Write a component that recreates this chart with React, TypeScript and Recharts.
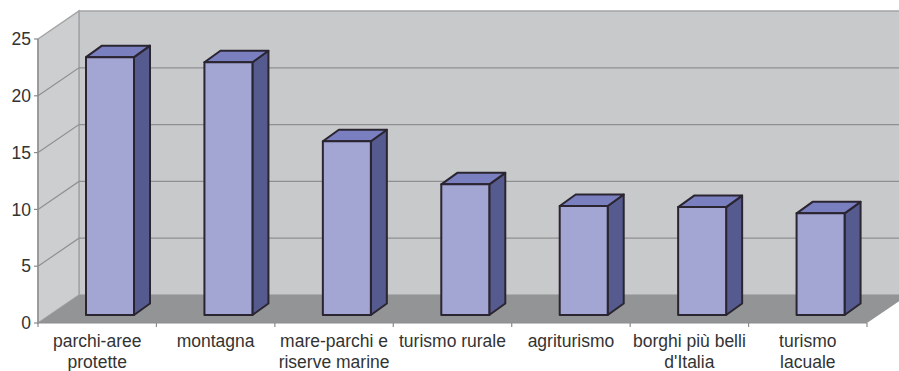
import React from "react";
import { BarChart, Bar, XAxis, YAxis, usePlotArea } from "recharts";

// --- Data ---

const CATEGORIES = [
  "parchi-aree\nprotette",
  "montagna",
  "mare-parchi e\nriserve marine",
  "turismo rurale",
  "agriturismo",
  "borghi più belli\nd'Italia",
  "turismo\nlacuale",
];
const VALUES = [22.7, 22.25, 15.3, 11.5, 9.6, 9.5, 8.95];
const Y_TICKS = [0, 5, 10, 15, 20, 25];
const Y_MAX = 25;

// --- Constants ---

const WALL = "#c8c9cb";
const SIDE_WALL = "#cdced0";
const FLOOR = "#939495";
const GRID = "#8f9092";
const EDGE = "#a3a4a6";
const AXIS = "#8a8b8d";
const TEXT = "#333333";
const FONT = "'Liberation Sans', Arial, sans-serif";

const BAR_FRONT = "#a3a5d3";
const BAR_TOP = "#7a7fbf";
const BAR_SIDE = "#565b8f";
const BAR_STROKE = "#2a2530";

// chart depth: how far the back wall sits from the axis plane
const DEPTH_X = 41;
const DEPTH_Y = 28;
// bars stand a little way into the floor, and have their own depth
const BAR_SHIFT_X = 13;
const BAR_SHIFT_Y = 8;
const BAR_DEPTH_X = 16;
const BAR_DEPTH_Y = 11.5;

// --- Sub-components ---

function pts(list: number[][]) {
  return list.map((p) => p.join(",")).join(" ");
}

// Walls, floor, wall gridlines and the ticks between categories
function Room() {
  const plot = usePlotArea();
  if (!plot) return null;
  const { x: left, y: top, width, height } = plot;
  const right = left + width;
  const bottom = top + height;
  const yOf = (v: number) => bottom - (v / Y_MAX) * height;
  const band = width / CATEGORIES.length;

  return (
    <g>
      <polygon
        points={pts([
          [left + DEPTH_X, top - DEPTH_Y],
          [right + DEPTH_X, top - DEPTH_Y],
          [right + DEPTH_X, bottom - DEPTH_Y],
          [left + DEPTH_X, bottom - DEPTH_Y],
        ])}
        fill={WALL}
        stroke={EDGE}
        strokeWidth={1.5}
      />
      <polygon
        points={pts([
          [left, top],
          [left + DEPTH_X, top - DEPTH_Y],
          [left + DEPTH_X, bottom - DEPTH_Y],
          [left, bottom],
        ])}
        fill={SIDE_WALL}
        stroke={EDGE}
        strokeWidth={1.5}
      />
      {Y_TICKS.filter((t) => t > 0 && t < Y_MAX).map((t) => (
        <polyline
          key={t}
          points={pts([
            [left, yOf(t)],
            [left + DEPTH_X, yOf(t) - DEPTH_Y],
            [right + DEPTH_X, yOf(t) - DEPTH_Y],
          ])}
          fill="none"
          stroke={GRID}
          strokeWidth={1.2}
        />
      ))}
      <polygon
        points={pts([
          [left, bottom],
          [left + DEPTH_X, bottom - DEPTH_Y],
          [right + DEPTH_X, bottom - DEPTH_Y],
          [right, bottom],
        ])}
        fill={FLOOR}
      />
      {CATEGORIES.map((_, i) => (
        <line
          key={i}
          x1={left + band * i}
          x2={left + band * i}
          y1={bottom}
          y2={bottom + 4}
          stroke={AXIS}
          strokeWidth={1.2}
        />
      ))}
      <line x1={right} x2={right} y1={bottom} y2={bottom + 4} stroke={AXIS} strokeWidth={1.2} />
    </g>
  );
}

function Bar3D({ x, y, width, height }: any) {
  const x0 = x + BAR_SHIFT_X;
  const x1 = x0 + width;
  const y0 = y - BAR_SHIFT_Y;
  const y1 = y0 + height;
  const dx = BAR_DEPTH_X;
  const dy = BAR_DEPTH_Y;
  const common = { stroke: BAR_STROKE, strokeWidth: 2, strokeLinejoin: "round" as const };
  return (
    <g>
      <polygon
        points={pts([
          [x1, y0],
          [x1 + dx, y0 - dy],
          [x1 + dx, y1 - dy],
          [x1, y1],
        ])}
        fill={BAR_SIDE}
        {...common}
      />
      <polygon
        points={pts([
          [x0, y0],
          [x0 + dx, y0 - dy],
          [x1 + dx, y0 - dy],
          [x1, y0],
        ])}
        fill={BAR_TOP}
        {...common}
      />
      <rect x={x0} y={y0} width={width} height={height} fill={BAR_FRONT} {...common} />
    </g>
  );
}

function CategoryTick({ x, y, payload }: any) {
  const lines = String(payload.value).split("\n");
  return (
    <text x={x} y={y} textAnchor="middle" fill={TEXT} fontSize={17.5} fontFamily={FONT}>
      {lines.map((line, i) => (
        <tspan key={i} x={x} y={y + 15.5 + i * 21}>
          {line}
        </tspan>
      ))}
    </text>
  );
}

// --- Main Component ---

export default function App() {
  const data = CATEGORIES.map((name, i) => ({ name, value: VALUES[i] }));

  return (
    <div style={{ position: "absolute", left: 0, top: 0, width: 899, height: 371, background: "#fff" }}>
      <BarChart
        width={899}
        height={371}
        data={data}
        margin={{ top: 39, right: 32, bottom: 0, left: 0 }}
        barSize={48}
      >
        <Room />
        <XAxis
          dataKey="name"
          height={48}
          interval={0}
          tick={<CategoryTick />}
          tickLine={false}
          axisLine={{ stroke: AXIS, strokeWidth: 1.2 }}
        />
        <YAxis
          width={38}
          domain={[0, Y_MAX]}
          ticks={Y_TICKS}
          interval={0}
          tickSize={4}
          tickMargin={3}
          tick={{ fill: TEXT, fontSize: 17.5, fontFamily: FONT }}
          tickLine={{ stroke: AXIS, strokeWidth: 1.2 }}
          axisLine={{ stroke: AXIS, strokeWidth: 1.2 }}
        />
        <Bar dataKey="value" isAnimationActive={false} shape={<Bar3D />} />
      </BarChart>
    </div>
  );
}
